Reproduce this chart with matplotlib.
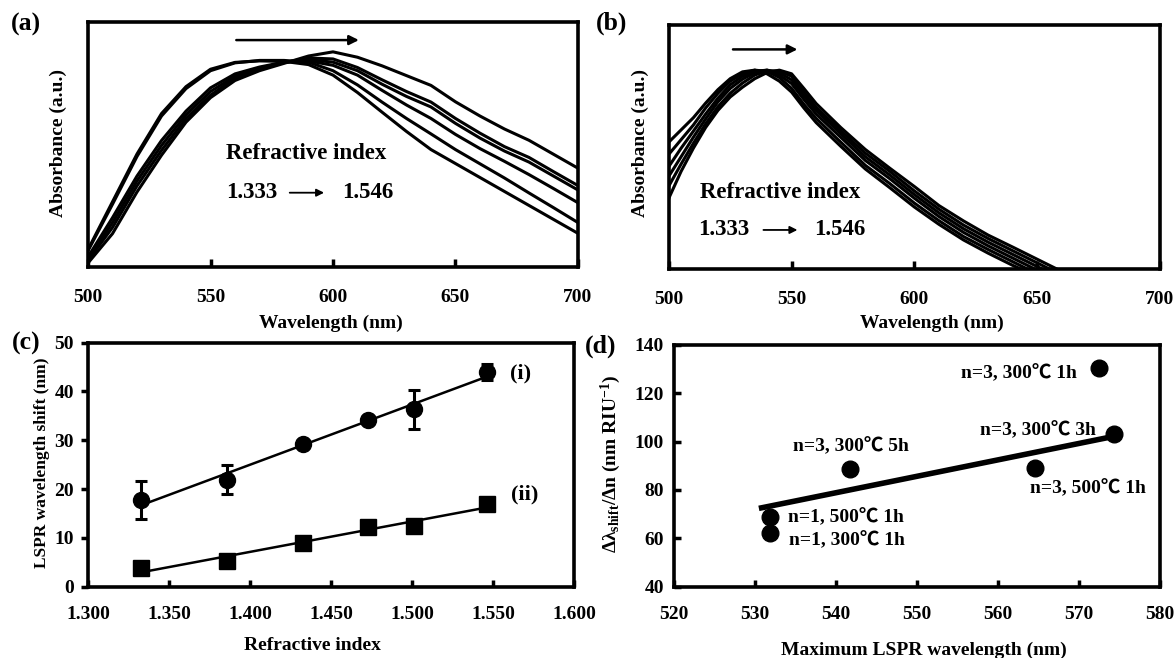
import numpy as np
import matplotlib.pyplot as plt

plt.rcParams['font.family'] = ['Liberation Serif', 'Noto Sans CJK JP']
plt.rcParams['font.weight'] = 'bold'
plt.rcParams['mathtext.fontset'] = 'custom'
plt.rcParams['mathtext.rm'] = 'Liberation Serif:bold'
plt.rcParams['mathtext.it'] = 'Liberation Serif:bold'
plt.rcParams['mathtext.bf'] = 'Liberation Serif:bold'

# ---- (a) spectra, refractive index 1.333 -> 1.546 ----
wl_a = [500, 510, 520, 530, 540, 550, 560, 570, 580, 590, 600,
        610, 620, 630, 640, 650, 660, 670, 680, 690, 700]
abs_a_1333 = [0.070, 0.265, 0.460, 0.625, 0.735, 0.806, 0.834, 0.840, 0.838, 0.825, 0.782,
              0.711, 0.631, 0.552, 0.478, 0.421, 0.364, 0.307, 0.250, 0.193, 0.136]
abs_a_1386 = [0.065, 0.255, 0.450, 0.615, 0.727, 0.800, 0.832, 0.842, 0.842, 0.835, 0.800,
              0.742, 0.672, 0.605, 0.542, 0.478, 0.420, 0.362, 0.301, 0.241, 0.180]
abs_a_1433 = [0.040, 0.200, 0.370, 0.515, 0.635, 0.730, 0.787, 0.815, 0.835, 0.840, 0.822,
              0.782, 0.720, 0.660, 0.605, 0.540, 0.482, 0.430, 0.376, 0.319, 0.261]
abs_a_1473 = [0.030, 0.180, 0.350, 0.495, 0.620, 0.715, 0.778, 0.810, 0.835, 0.845, 0.835,
              0.800, 0.745, 0.695, 0.652, 0.585, 0.525, 0.472, 0.427, 0.370, 0.313]
abs_a_1501 = [0.025, 0.160, 0.330, 0.475, 0.605, 0.700, 0.770, 0.805, 0.833, 0.852, 0.848,
              0.813, 0.763, 0.715, 0.672, 0.605, 0.545, 0.490, 0.446, 0.388, 0.331]
abs_a_1546 = [0.015, 0.135, 0.305, 0.455, 0.590, 0.690, 0.760, 0.800, 0.830, 0.860, 0.877,
              0.855, 0.820, 0.780, 0.740, 0.673, 0.615, 0.562, 0.516, 0.459, 0.402]

# ---- (b) spectra ----
wl_b = [500, 505, 510, 515, 520, 525, 530, 535, 540, 545, 550, 555, 560,
        570, 580, 590, 600, 610, 620, 630, 640, 650, 660]
abs_b_1333 = [0.520, 0.570, 0.620, 0.680, 0.735, 0.780, 0.808, 0.815, 0.800, 0.770, 0.725, 0.660, 0.600,
              0.503, 0.410, 0.333, 0.254, 0.183, 0.119, 0.065, 0.015, -0.030, -0.070]
abs_b_1386 = [0.470, 0.530, 0.590, 0.660, 0.720, 0.770, 0.800, 0.815, 0.810, 0.785, 0.740, 0.675, 0.617,
              0.520, 0.425, 0.350, 0.270, 0.198, 0.133, 0.080, 0.030, -0.020, -0.060]
abs_b_1433 = [0.420, 0.495, 0.565, 0.635, 0.700, 0.755, 0.790, 0.810, 0.815, 0.795, 0.760, 0.695, 0.635,
              0.540, 0.445, 0.370, 0.290, 0.215, 0.150, 0.095, 0.045, -0.005, -0.050]
abs_b_1473 = [0.380, 0.460, 0.540, 0.615, 0.685, 0.740, 0.778, 0.805, 0.815, 0.805, 0.775, 0.710, 0.650,
              0.555, 0.460, 0.385, 0.305, 0.230, 0.165, 0.110, 0.060, 0.010, -0.040]
abs_b_1501 = [0.340, 0.430, 0.515, 0.595, 0.665, 0.720, 0.762, 0.795, 0.812, 0.812, 0.790, 0.725, 0.662,
              0.567, 0.475, 0.400, 0.320, 0.245, 0.180, 0.125, 0.075, 0.025, -0.025]
abs_b_1546 = [0.290, 0.400, 0.495, 0.580, 0.650, 0.705, 0.745, 0.780, 0.805, 0.815, 0.800, 0.740, 0.678,
              0.580, 0.490, 0.413, 0.338, 0.260, 0.197, 0.139, 0.090, 0.040, -0.010]

# ---- (c) LSPR shift vs refractive index ----
ri = [1.333, 1.386, 1.433, 1.473, 1.501, 1.546]
shift_i = [17.8, 21.9, 29.3, 34.1, 36.4, 44.0]
err_i = [3.9, 3.0, 0.8, 0.8, 4.0, 1.6]
shift_ii = [3.8, 5.3, 8.9, 12.3, 12.5, 16.9]

# ---- (d) sensitivity vs max LSPR wavelength ----
lam_max = [531.9, 531.9, 541.8, 564.5, 572.4, 574.3]
sens = [69.0, 62.1, 88.8, 88.9, 130.3, 103.3]
cond_labels = ['n=1, 500℃ 1h', 'n=1, 300℃ 1h', 'n=3, 300℃ 5h',
               'n=3, 500℃ 1h', 'n=3, 300℃ 1h', 'n=3, 300℃ 3h']
trend_x = [530.5, 574.3]
trend_y = [72.4, 102.2]

TICK_FS = 14
LAB_FS = 14

fig = plt.figure(figsize=(11.75, 6.58), dpi=100)

def style(ax, lw=2.6):
    for s in ax.spines.values():
        s.set_linewidth(lw)
    for lab in ax.get_xticklabels() + ax.get_yticklabels():
        lab.set_fontweight('bold')

# (a)
ax_a = fig.add_axes([0.0749, 0.5947, 0.4170, 0.3723])
for yv in [abs_a_1333, abs_a_1386, abs_a_1433, abs_a_1473, abs_a_1501, abs_a_1546]:
    ax_a.plot(wl_a, yv, color='k', lw=2.2)
ax_a.set_xlim(500, 700)
ax_a.set_ylim(0, 1)
ax_a.set_xticks([500, 550, 600, 650, 700])
ax_a.set_yticks([])
ax_a.tick_params(axis='x', direction='in', length=6, width=2.5, pad=16, labelsize=TICK_FS)
ax_a.set_xlabel('Wavelength (nm)', fontsize=LAB_FS, fontweight='bold')
ax_a.set_ylabel('Absorbance (a.u.)', fontsize=LAB_FS, fontweight='bold')
ax_a.xaxis.set_label_coords(0.496, -0.197)
ax_a.yaxis.set_label_coords(-0.043, 0.504)
ax_a.annotate('', xy=(611.7, 0.925), xytext=(559.4, 0.925),
              arrowprops=dict(arrowstyle='-|>', lw=1.8, color='k', mutation_scale=14))
ax_a.text(556.2, 0.464, 'Refractive index', fontsize=16.5, fontweight='bold', va='center')
ax_a.text(556.2, 0.302, '1.333', fontsize=16.5, fontweight='bold', va='center')
ax_a.text(603.9, 0.302, '1.546', fontsize=16.5, fontweight='bold', va='center')
ax_a.annotate('', xy=(597.5, 0.302), xytext=(581.2, 0.302),
              arrowprops=dict(arrowstyle='-|>', lw=1.3, color='k', mutation_scale=11))
style(ax_a)

# (b)
ax_b = fig.add_axes([0.5692, 0.5912, 0.4180, 0.3708])
for yv in [abs_b_1333, abs_b_1386, abs_b_1433, abs_b_1473, abs_b_1501, abs_b_1546]:
    ax_b.plot(wl_b, yv, color='k', lw=2.2)
ax_b.set_xlim(500, 700)
ax_b.set_ylim(0, 1)
ax_b.set_xticks([500, 550, 600, 650, 700])
ax_b.set_yticks([])
ax_b.tick_params(axis='x', direction='in', length=6, width=2.5, pad=16, labelsize=TICK_FS)
ax_b.set_xlabel('Wavelength (nm)', fontsize=LAB_FS, fontweight='bold')
ax_b.set_ylabel('Absorbance (a.u.)', fontsize=LAB_FS, fontweight='bold')
ax_b.xaxis.set_label_coords(0.535, -0.189)
ax_b.yaxis.set_label_coords(-0.040, 0.515)
ax_b.annotate('', xy=(553.5, 0.90), xytext=(525.0, 0.90),
              arrowprops=dict(arrowstyle='-|>', lw=1.8, color='k', mutation_scale=14))
ax_b.text(512.5, 0.313, 'Refractive index', fontsize=16.5, fontweight='bold', va='center')
ax_b.text(512.0, 0.160, '1.333', fontsize=16.5, fontweight='bold', va='center')
ax_b.text(559.0, 0.160, '1.546', fontsize=16.5, fontweight='bold', va='center')
ax_b.annotate('', xy=(553.5, 0.160), xytext=(537.4, 0.160),
              arrowprops=dict(arrowstyle='-|>', lw=1.3, color='k', mutation_scale=11))
style(ax_b)

# (c)
ax_c = fig.add_axes([0.0749, 0.1084, 0.4136, 0.3708])
ri_arr = np.array(ri)
for yv in [shift_i, shift_ii]:
    p = np.polyfit(ri_arr, yv, 1)
    ax_c.plot(ri_arr, np.polyval(p, ri_arr), color='k', lw=1.8, zorder=2)
ax_c.errorbar(ri, shift_i, yerr=err_i, fmt='o', color='k', ms=11.5,
              elinewidth=2.2, capsize=4, capthick=2.2, zorder=3)
ax_c.plot(ri, shift_ii, 's', color='k', ms=11.5, zorder=3)
ax_c.set_xlim(1.3, 1.6)
ax_c.set_ylim(0, 50)
ax_c.set_xticks([1.30, 1.35, 1.40, 1.45, 1.50, 1.55, 1.60])
ax_c.set_xticklabels(['1.300', '1.350', '1.400', '1.450', '1.500', '1.550', '1.600'])
ax_c.set_yticks([0, 10, 20, 30, 40, 50])
ax_c.tick_params(axis='x', direction='in', length=5, width=2.5, pad=14, labelsize=TICK_FS)
ax_c.tick_params(axis='y', direction='out', length=5, width=2.5, pad=5, labelsize=TICK_FS)
ax_c.text(1.567, 43.6, '(i)', fontsize=16, fontweight='bold', ha='center', va='center')
ax_c.text(1.5695, 18.8, '(ii)', fontsize=16, fontweight='bold', ha='center', va='center')
ax_c.set_xlabel('Refractive index', fontsize=LAB_FS, fontweight='bold')
ax_c.set_ylabel('LSPR wavelength shift (nm)', fontsize=12.5, fontweight='bold')
ax_c.xaxis.set_label_coords(0.4625, -0.205)
ax_c.yaxis.set_label_coords(-0.078, 0.506)
style(ax_c)

# (d)
ax_d = fig.add_axes([0.5734, 0.1084, 0.4140, 0.3673])
ax_d.plot(trend_x, trend_y, color='k', lw=4.0, solid_capstyle='butt', zorder=2)
ax_d.plot(lam_max, sens, 'o', color='k', ms=12, zorder=3)
lab_pos = [(534.1, 68.7, 'left'), (534.2, 59.3, 'left'), (534.7, 98.2, 'left'),
           (563.9, 80.7, 'left'), (569.7, 128.3, 'right'), (572.1, 104.8, 'right')]
for (tx, ty, ha), lab in zip(lab_pos, cond_labels):
    ax_d.text(tx, ty, lab, fontsize=14, fontweight='bold', ha=ha, va='center')
ax_d.set_xlim(520, 580)
ax_d.set_ylim(40, 140)
ax_d.set_xticks([520, 530, 540, 550, 560, 570, 580])
ax_d.set_yticks([40, 60, 80, 100, 120, 140])
ax_d.tick_params(axis='both', direction='in', length=5, width=2.5, labelsize=TICK_FS)
ax_d.tick_params(axis='x', pad=14)
ax_d.tick_params(axis='y', pad=7)
ax_d.set_xlabel('Maximum LSPR wavelength (nm)', fontsize=LAB_FS, fontweight='bold')
ax_d.set_ylabel(r'$\Delta\lambda_{shift}$/$\Delta$n (nm RIU$^{-1}$)', fontsize=LAB_FS, fontweight='bold')
ax_d.xaxis.set_label_coords(0.5135, -0.2276)
ax_d.yaxis.set_label_coords(-0.105, 0.508)
style(ax_d)

# panel letters
for (px, py, letter) in [(26, 24, '(a)'), (611.6, 23, '(b)'), (26, 343, '(c)'), (601, 346, '(d)')]:
    fig.text(px / 1175, 1 - py / 658, letter, fontsize=18.5, fontweight='bold',
             ha='center', va='center')

fig.savefig('out.png', dpi=100)
